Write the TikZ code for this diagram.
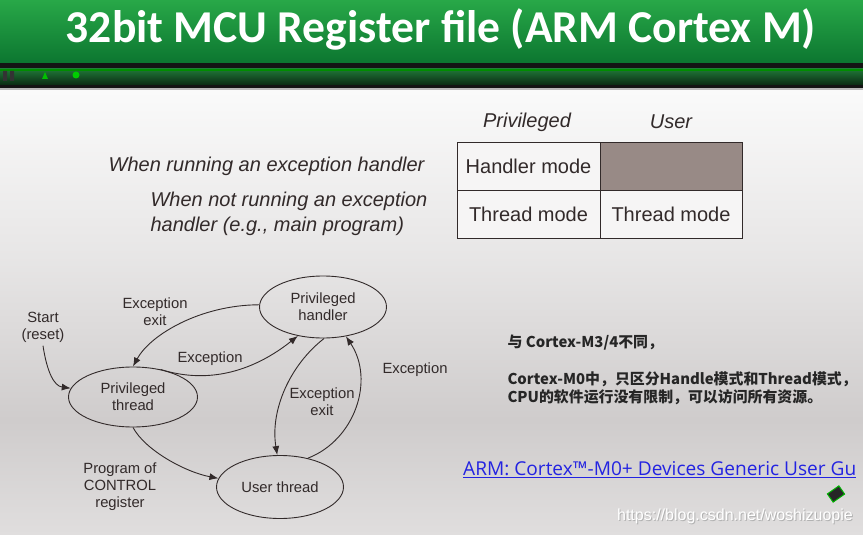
\documentclass[tikz,border=0pt]{standalone}
\usepackage{fontspec}
\setmainfont{Liberation Sans}
\newfontfamily\titlefont{Carlito}
\newfontfamily\cjk{Noto Sans CJK SC}
\newfontfamily\linkfont{Open Sans}
\usetikzlibrary{shapes.geometric,arrows.meta}

\definecolor{ink}{RGB}{50,42,42}
\definecolor{greentop}{RGB}{40,168,72}
\definecolor{greenbot}{RGB}{12,118,48}
\definecolor{bandgreen}{RGB}{32,120,55}
\definecolor{bgtop}{RGB}{250,250,250}
\definecolor{bgmid}{RGB}{207,204,204}
\definecolor{bgbot}{RGB}{224,222,222}
\definecolor{cellbg}{RGB}{246,245,245}
\definecolor{cellgray}{RGB}{152,138,134}
\definecolor{linkblue}{RGB}{35,35,225}

\begin{document}
\begin{tikzpicture}[x=1pt,y=1pt,
  state/.style={ellipse,draw=ink,line width=0.9pt,minimum width=127pt,minimum height=62pt,
    inner sep=0pt,align=center,font=\fontsize{14.8}{17}\selectfont,text=ink},
  lbl/.style={align=center,font=\fontsize{14.8}{17}\selectfont,text=ink},
  arr/.style={draw=ink,line width=0.9pt,-{Latex[length=9pt,width=7pt]}},
  cell/.style={draw=ink,line width=1pt,fill=cellbg,minimum width=143pt,minimum height=48pt,
    inner sep=0pt,font=\fontsize{20}{24}\selectfont,text=ink},
  hint/.style={font=\fontsize{20}{25}\selectfont\itshape,text=ink}]

\useasboundingbox (0,0) rectangle (863,-535);
\clip (0,0) rectangle (863,-535);

% page background
\shade[top color=bgtop,bottom color=bgtop!55!bgmid] (0,-90) rectangle (863,-260);
\shade[top color=bgtop!55!bgmid,bottom color=bgmid] (0,-260) rectangle (863,-420);
\shade[top color=bgmid,bottom color=bgbot] (0,-420) rectangle (863,-535);

% title bar
\shade[top color=greentop,bottom color=greenbot] (0,0) rectangle (863,-63);
\node[font=\titlefont\bfseries\fontsize{45.6}{50}\selectfont,text=white] (title) at (441,-29)
  {32bit MCU Register file (ARM Cortex M)};
\fill[black!92] (0,-63) rectangle (863,-89);
\shade[top color=bandgreen,bottom color=bandgreen!35!black] (0,-69) rectangle (863,-85);
\fill[green!55!black] (0,-69) rectangle (863,-71);
\fill[gray!40!black] (3,-71) rectangle (7,-81) (10,-71) rectangle (14,-81);
\fill[green!75!black] (42,-79) -- (45,-72) -- (48,-79) -- cycle;
\fill[green!80!black] (76,-75) circle (3.5);
\fill[gray!55] (0,-88.5) rectangle (863,-90.5);

% mode table
\node[hint] (hpriv) at (527,-122) {Privileged};
\node[hint] (huser) at (671,-122) {User};
\node[cell] (hm) at (528.5,-166.5) {Handler mode};
\node[cell,fill=cellgray,minimum width=142pt] (hu) at (671,-166.5) {};
\node[cell] (tm) at (528.5,-214.5) {Thread mode};
\node[cell,minimum width=142pt] (tu) at (671,-214.5) {Thread mode};

\node[hint,anchor=east] (w1) at (428,-166) {When running an exception handler};
\node[hint,anchor=west,align=left] (w2) at (147,-214) {When not running an exception\\handler (e.g., main program)};

% state diagram
\node[state] (ph) at (323,-307) {Privileged\\handler};
\node[state,minimum width=129pt,minimum height=60pt] (pt) at (133,-397) {Privileged\\thread};
\node[state,minimum height=63pt] (ut) at (280,-487) {User thread};

\node[lbl] (start) at (43,-327) {Start\\(reset)};
\node[lbl] (l1) at (155,-312) {Exception\\exit};
\node[lbl] (l2) at (210,-359) {Exception};
\node[lbl] (l3) at (322,-402) {Exception\\exit};
\node[lbl] (l4) at (415,-370) {Exception};
\node[lbl] (l5) at (120,-487) {Program of\\CONTROL\\register};

\draw[arr] (start.south) .. controls (47,-372) and (54,-386) .. (pt.172);
\draw[arr] (ph.178) .. controls (200,-305) and (150,-335) .. (pt.90);
\draw[arr] (pt.45) .. controls (210,-385) and (255,-370) .. (ph.229);
\draw[arr] (ph.272) .. controls (290,-365) and (270,-410) .. (ut.95);
\draw[arr] (ut.46) .. controls (355,-440) and (375,-380) .. (ph.308);
\draw[arr] (pt.270) .. controls (145,-450) and (185,-472) .. (ut.172);

% notes
\node[anchor=west,font=\cjk\bfseries\fontsize{14.9}{18}\selectfont,text=black!85] (n1) at (504,-343)
  {与 Cortex-M3/4不同，};
\node[anchor=west,align=left,font=\cjk\bfseries\fontsize{14.9}{18}\selectfont,text=black!85] (n2) at (504,-388)
  {Cortex-M0中，只区分Handle模式和Thread模式，\\CPU的软件运行没有限制，可以访问所有资源。};
\node[anchor=west,font=\linkfont\fontsize{19.1}{22}\selectfont,text=linkblue,inner sep=0pt] (link) at (463,-470)
  {\underline{ARM: Cortex™-M0+ Devices Generic User Gu}};

\fill[black!85,draw=green!70!black,line width=1pt,rotate around={35:(836,-494)}] (829,-489) rectangle (843,-499);
\node[font=\fontsize{16}{18}\selectfont,text=black!30] (mark) at (736,-517) {https://blog.csdn.net/woshizuopie};
\node[font=\fontsize{16}{18}\selectfont,text=white] (mark2) at (735,-516) {https://blog.csdn.net/woshizuopie};
\end{tikzpicture}
\end{document}
